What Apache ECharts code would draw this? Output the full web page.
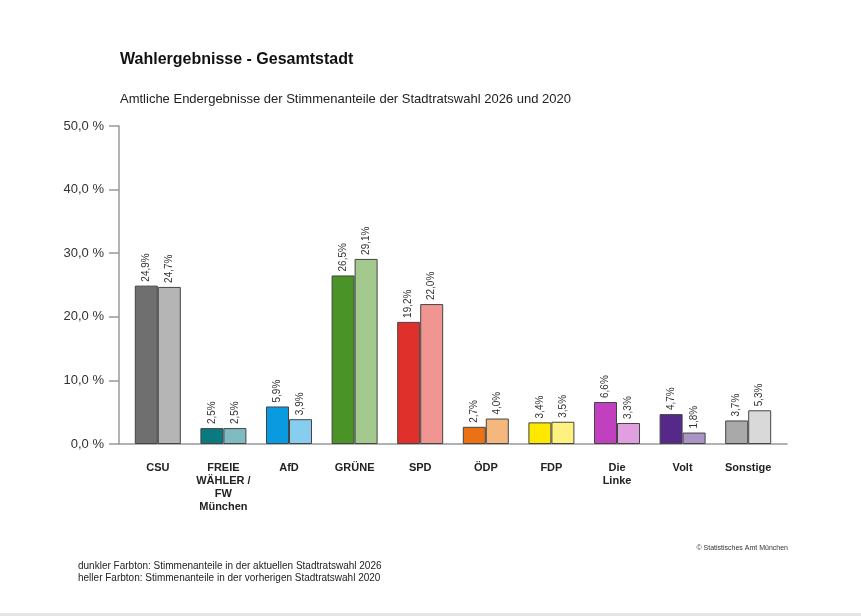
<!DOCTYPE html>
<html>
<head>
<meta charset="utf-8">
<script src="https://cdn.jsdelivr.net/npm/echarts@6/dist/echarts.min.js"></script>
<style>
html,body{margin:0;padding:0;background:#fff;}
#c{width:861px;height:616px;}
</style>
</head>
<body>
<div id="c"></div>
<script>
var categories = ['CSU', 'FREIE\nWÄHLER /\nFW\nMünchen', 'AfD', 'GRÜNE', 'SPD', 'ÖDP', 'FDP', 'Die\nLinke', 'Volt', 'Sonstige'];
var values2026 = [24.9, 2.5, 5.9, 26.5, 19.2, 2.7, 3.4, 6.6, 4.7, 3.7];
var values2020 = [24.7, 2.5, 3.9, 29.1, 22.0, 4.0, 3.5, 3.3, 1.8, 5.3];
var yTicks = [0, 10, 20, 30, 40, 50];

var darkColors = ['#6f6f6f', '#0b7a80', '#0a9ae0', '#4a9327', '#e0302b', '#ea7214', '#ffe800', '#c040c0', '#55288a', '#a9a9a9'];
var lightColors = ['#b5b5b5', '#7fbcc2', '#86cdef', '#a4c98e', '#f09591', '#f4b87e', '#fff17f', '#e0a0e0', '#aa93c5', '#d9d9d9'];

var FONT = '"Liberation Sans", Arial, sans-serif';
function pct(v){ return v.toFixed(1).replace('.', ',') + '%'; }

var barLabel = {
  show: true, position: 'top', rotate: 90, align: 'left', verticalAlign: 'middle',
  distance: 4, fontSize: 10, color: '#333', fontFamily: FONT,
  formatter: function(p){ return pct(p.value); }
};

var chart = echarts.init(document.getElementById('c'), null, {renderer: 'canvas'});
chart.setOption({
  backgroundColor: '#fff',
  animation: false,
  title: [
    {text: 'Wahlergebnisse - Gesamtstadt', left: 120, top: 52, padding: 0,
     textStyle: {fontSize: 16, fontWeight: 'bold', color: '#111', fontFamily: FONT}},
    {text: 'Amtliche Endergebnisse der Stimmenanteile der Stadtratswahl 2026 und 2020', left: 120, top: 93, padding: 0,
     textStyle: {fontSize: 13, fontWeight: 'normal', color: '#222', fontFamily: FONT}},
    {text: 'dunkler Farbton: Stimmenanteile in der aktuellen Stadtratswahl 2026\nheller Farbton: Stimmenanteile in der vorherigen Stadtratswahl 2020',
     left: 78, top: 560, padding: 0,
     textStyle: {fontSize: 10, fontWeight: 'normal', color: '#222', fontFamily: FONT, lineHeight: 12}},
    {text: '© Statistisches Amt München', right: 73, top: 545, padding: 0,
     textStyle: {fontSize: 7, fontWeight: 'normal', color: '#333', fontFamily: FONT}}
  ],
  graphic: [
    {type: 'rect', left: 0, top: 613, shape: {width: 861, height: 3}, style: {fill: '#e4e4e4'}, silent: true}
  ],
  grid: [
    {left: 125, right: 80, top: 126, bottom: 172},
    {left: 119, right: 74, top: 126, bottom: 172}
  ],
  xAxis: [
    {type: 'category', gridIndex: 0, data: categories,
     axisLine: {show: false}, axisTick: {show: false},
     axisLabel: {margin: 17, fontSize: 11, fontWeight: 'bold', color: '#222', fontFamily: FONT, lineHeight: 13, interval: 0}},
    {type: 'value', gridIndex: 1, min: 0, max: 1,
     axisLine: {show: true, lineStyle: {color: '#999', width: 1.5}},
     axisTick: {show: false}, axisLabel: {show: false}, splitLine: {show: false}}
  ],
  yAxis: [
    {type: 'value', gridIndex: 0, min: yTicks[0], max: yTicks[yTicks.length - 1], interval: 10,
     axisLine: {show: false}, axisTick: {show: false}, axisLabel: {show: false}, splitLine: {show: false}},
    {type: 'value', gridIndex: 1, min: yTicks[0], max: yTicks[yTicks.length - 1], interval: 10,
     axisLine: {show: true, lineStyle: {color: '#999', width: 1.5}},
     axisTick: {show: true, length: 10, lineStyle: {color: '#999', width: 1.5}},
     axisLabel: {margin: 15, fontSize: 13, color: '#333', fontFamily: FONT,
                 formatter: function(v){ return v.toFixed(1).replace('.', ',') + ' %'; }},
     splitLine: {show: false}}
  ],
  series: [
    {name: '2026', type: 'bar', xAxisIndex: 0, yAxisIndex: 0, data: values2026,
     barWidth: 23, barGap: '0%',
     itemStyle: {color: function(p){ return darkColors[p.dataIndex]; }, borderColor: '#444', borderWidth: 1},
     label: barLabel},
    {name: '2020', type: 'bar', xAxisIndex: 0, yAxisIndex: 0, data: values2020,
     barWidth: 23, barGap: '0%',
     itemStyle: {color: function(p){ return lightColors[p.dataIndex]; }, borderColor: '#444', borderWidth: 1},
     label: barLabel}
  ]
});
</script>
</body>
</html>
